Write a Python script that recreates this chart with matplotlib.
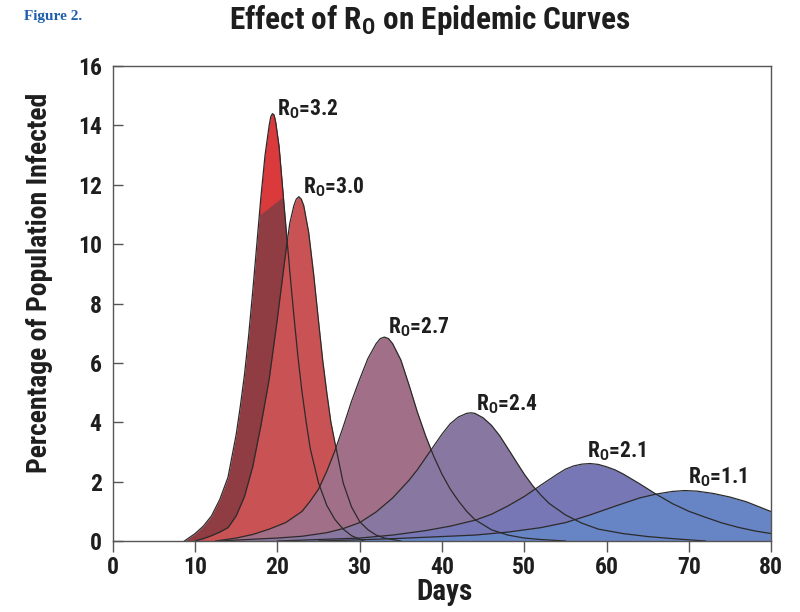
import numpy as np
import matplotlib
matplotlib.use("Agg")
import matplotlib.pyplot as plt
from matplotlib import font_manager

# epidemic curves: day -> percentage infected
labels = ["3.2", "3.0", "2.7", "2.4", "2.1", "1.1"]

days_32 = [8.7, 10, 11, 12, 13, 14, 15, 15.5, 16, 16.5, 17, 17.5, 18, 18.5, 19, 19.2, 19.4, 19.6, 19.8,
           20.2, 20.6, 21, 21.5, 22, 22.5, 23, 23.5, 24, 25, 26, 27, 28, 29, 30.5]
vals_32 = [0, 0.25, 0.5, 0.85, 1.4, 2.15, 3.6, 4.55, 5.6, 6.9, 8.4, 10.0, 11.6, 13.0, 14.0, 14.3, 14.4, 14.35, 14.1,
           13.3, 12.0, 10.7, 9.1, 7.6, 6.2, 5.0, 4.0, 3.1, 1.95, 1.2, 0.72, 0.4, 0.18, 0]

days_30 = [10, 11, 12, 13, 14, 15, 16, 17, 18, 19, 20, 20.5, 21, 21.5, 22, 22.3, 22.6, 22.9, 23.2, 23.8,
           24.4, 25, 25.5, 26, 26.5, 27, 28, 29, 30, 31, 32, 33, 35]
vals_30 = [0, 0.08, 0.18, 0.3, 0.45, 0.85, 1.5, 2.5, 3.9, 5.45, 7.5, 8.6, 9.7, 10.7, 11.3, 11.52, 11.6, 11.52, 11.3, 10.4,
           9.0, 7.4, 6.1, 5.0, 4.0, 3.3, 1.95, 1.15, 0.65, 0.38, 0.2, 0.1, 0]

days_27 = [12.5, 15, 17, 19, 21, 23, 24, 25, 26, 27, 28, 29, 30, 31, 32, 32.5, 33, 33.5, 34, 35, 36, 37, 38,
           39, 40, 41, 42, 43, 44, 46, 48, 50, 52, 55]
vals_27 = [0, 0.1, 0.22, 0.4, 0.62, 1.0, 1.35, 1.75, 2.35, 3.05, 3.85, 4.7, 5.45, 6.15, 6.65, 6.82, 6.87, 6.82, 6.65,
           6.1, 5.25, 4.35, 3.55, 2.85, 2.25, 1.75, 1.35, 1.0, 0.72, 0.38, 0.2, 0.1, 0.05, 0]

days_24 = [13, 17, 20, 23, 26, 28, 30, 32, 34, 36, 37, 38, 39, 40, 41, 42, 43, 43.5, 44, 45, 46,
           47, 48, 49, 50, 51, 52, 53, 55, 57, 59, 62, 65, 68, 72]
vals_24 = [0, 0.06, 0.1, 0.16, 0.28, 0.42, 0.62, 0.98, 1.45, 2.05, 2.4, 2.8, 3.2, 3.6, 3.95, 4.18, 4.3,
           4.32, 4.3, 4.15, 3.9, 3.55, 3.12, 2.68, 2.25, 1.87, 1.55, 1.27, 0.88, 0.6, 0.4, 0.25, 0.15, 0.08, 0]

days_21 = [20, 25, 30, 34, 38, 41, 44, 46, 48, 50, 52, 54, 55, 56, 57, 58, 59, 60, 61, 62, 64,
           66, 68, 70, 72, 74, 76, 78, 80]
vals_21 = [0, 0.05, 0.1, 0.2, 0.35, 0.5, 0.7, 0.9, 1.18, 1.5, 1.88, 2.25, 2.42, 2.53, 2.59, 2.61, 2.58,
           2.5, 2.4, 2.26, 1.93, 1.58, 1.26, 1.0, 0.8, 0.61, 0.46, 0.34, 0.25]

days_11 = [25, 30, 35, 40, 44, 48, 52, 55, 58, 61, 64, 66, 68, 69.5, 71, 73, 75, 77, 79, 80]
vals_11 = [0, 0.04, 0.09, 0.15, 0.2, 0.3, 0.45, 0.62, 0.88, 1.17, 1.45, 1.58, 1.67, 1.7, 1.68,
           1.6, 1.48, 1.32, 1.1, 0.99]

all_days = [days_32, days_30, days_27, days_24, days_21, days_11]
all_vals = [vals_32, vals_30, vals_27, vals_24, vals_21, vals_11]

fills = ["#8f3d43", "#c95254", "#a26f88", "#8877a0", "#7677b4", "#6784c5"]
cap_color = "#db3a3c"  # bright top of the R0=3.2 curve
label_pos = [(20.0, 14.35), (23.1, 11.72), (33.4, 7.0), (44.1, 4.41), (57.6, 2.83), (69.9, 1.95)]

# pick the narrowest sans that is installed
have = {f.name for f in font_manager.fontManager.ttflist}
narrow = "DejaVu Sans"
for name in ["Roboto Condensed", "DejaVu Sans Condensed", "Liberation Sans Narrow", "Roboto"]:
    if name in have:
        narrow = name
        break

plt.rcParams["font.family"] = [narrow, "DejaVu Sans"]
plt.rcParams["mathtext.fontset"] = "custom"
plt.rcParams["mathtext.rm"] = narrow + ":bold"
plt.rcParams["mathtext.default"] = "regular"

fig = plt.figure(figsize=(8, 6.12), dpi=100)
ax = fig.add_axes([0.141, 0.116, 0.823, 0.776])

for i, (d, v) in enumerate(zip(all_days, all_vals)):
    d = np.array(d)
    v = np.array(v)
    ax.fill_between(d, 0, v, color=fills[i], lw=0, zorder=2 + i)
    if i == 0:
        cut = np.interp(d, [17.8, 20.9], [10.98, 11.65])
        ax.fill_between(d, cut, v, where=v > cut, interpolate=True,
                        color=cap_color, lw=0, zorder=2.5)

for d, v in zip(all_days, all_vals):
    ax.plot(d, v, color="#2b2b2b", lw=0.9, zorder=20)

for lab, (x, y) in zip(labels, label_pos):
    ax.text(x, y, r"R$_{O}$=" + lab, fontsize=15.5, fontweight="bold",
            color="#1e1e1e", ha="left", va="baseline", zorder=30)

ax.set_xlim(0, 80)
ax.set_ylim(0, 16)
ax.set_xticks(range(0, 81, 10))
ax.set_yticks(range(0, 17, 2))
ax.tick_params(axis="y", direction="in", length=7, width=1, color="#555555",
               labelsize=17, pad=8)
ax.tick_params(axis="x", direction="out", length=8, width=1, color="#555555",
               labelsize=17, pad=3)
for t in ax.get_xticklabels() + ax.get_yticklabels():
    t.set_fontweight("bold")
    t.set_color("#1e1e1e")
for s in ax.spines.values():
    s.set_color("#555555")
    s.set_linewidth(1.0)
    s.set_zorder(25)

fig.text(0.555, 0.032, "Days", fontsize=21, fontweight="bold", color="#1e1e1e",
         ha="center", va="center")
fig.text(0.05, 0.538, "Percentage of Population Infected", fontsize=20, fontweight="bold",
         color="#1e1e1e", rotation=90, ha="center", va="center")
fig.text(0.5375, 0.952, r"Effect of R$_{O}$ on Epidemic Curves", fontsize=22.5, fontweight="bold",
         color="#1e1e1e", ha="center", va="baseline")
fig.text(0.03, 0.968, "Figure 2.", fontsize=11, fontweight="bold", color="#1f5fad",
         family="Liberation Serif", ha="left", va="baseline")

fig.savefig("out.png", dpi=100, facecolor="white")
